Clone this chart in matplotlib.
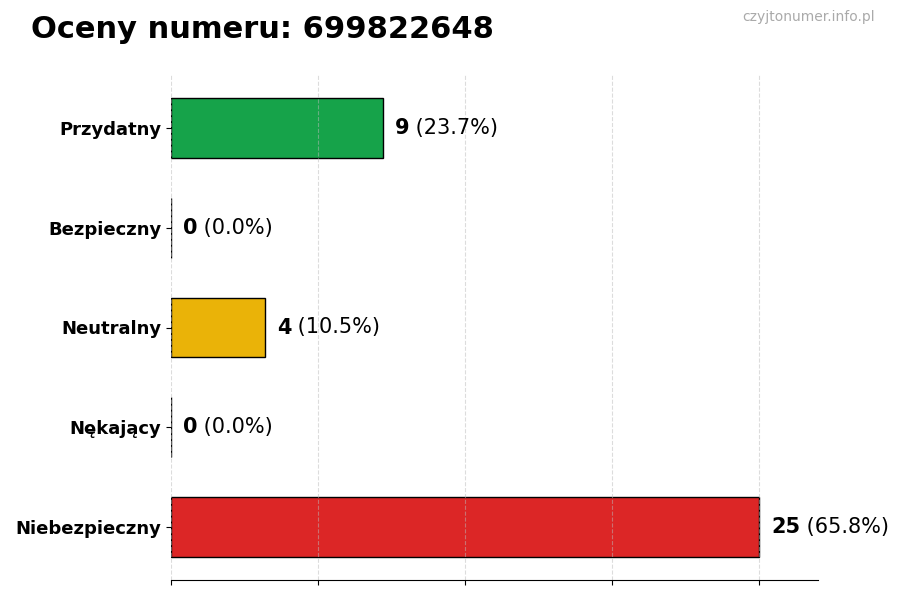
import numpy as np
import matplotlib
matplotlib.use("Agg")
import matplotlib.pyplot as plt

categories = ["Przydatny", "Bezpieczny", "Neutralny", "Nękający", "Niebezpieczny"]
counts = [9, 0, 4, 0, 25]
colors = ["#16a34a", "#9ca3af", "#eab308", "#f97316", "#dc2626"]
title = "Oceny numeru: 699822648"
watermark = "czyjtonumer.info.pl"

total = sum(counts)
vmax = max(counts)

fig = plt.figure(figsize=(9, 6), dpi=100)
ax = fig.add_axes([171/900, 20/600, 647/900, 505/600])

y = np.arange(len(categories))
ax.barh(y, counts, height=0.6, color=colors, edgecolor="black", linewidth=1)
ax.set_yticks(y)
ax.set_yticklabels(categories, fontsize=13, fontweight="bold")
ax.invert_yaxis()
ax.set_xlim(0, vmax * 1.1)
ax.set_xticks(np.linspace(0, vmax, 5))
ax.set_xticklabels([])
ax.grid(axis="x", linestyle="--", alpha=0.5, color="#bbbbbb")
for s in ["top", "right", "left"]:
    ax.spines[s].set_visible(False)

fig.canvas.draw()
r = fig.canvas.get_renderer()
for i, v in enumerate(counts):
    x0 = v + vmax * 0.02
    t = ax.text(x0, i, str(v), fontsize=15, fontweight="bold", va="center", ha="left")
    bb = t.get_window_extent(renderer=r)
    x1 = ax.transData.inverted().transform((bb.x1, 0))[0]
    ax.text(x1, i, " (%.1f%%)" % (v / total * 100), fontsize=15, va="center", ha="left")

fig.text(31/900, 1 - 30/600, title, fontsize=22, fontweight="bold", va="center", ha="left")
fig.text(875/900, 1 - 17/600, watermark, fontsize=10, color="#aaaaaa", va="center", ha="right")

fig.savefig("out.png", dpi=100)
